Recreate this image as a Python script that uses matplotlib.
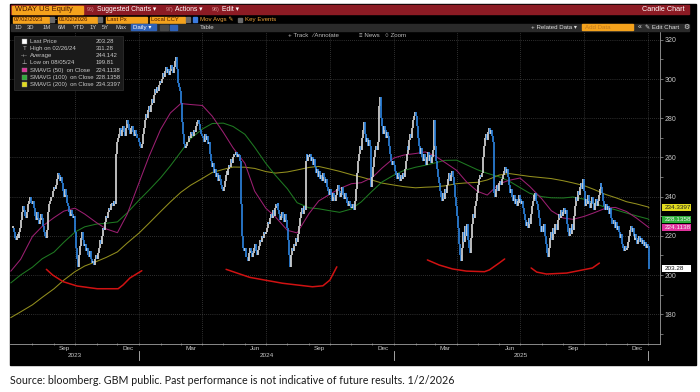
import matplotlib
matplotlib.use('Agg')
import matplotlib.pyplot as plt
import matplotlib.dates as mdates
from matplotlib.patches import Rectangle
from matplotlib.transforms import blended_transform_factory
import pandas as pd

plt.rcParams['font.family'] = ['Liberation Sans', 'DejaVu Sans']

# daily closes, one inner list per month
close_2023 = [
    [224, 222, 219, 218, 220, 221, 219, 222, 224, 228, 232, 235, 233, 230, 229, 232, 236, 238, 240, 237, 236],
    [238, 234, 230, 228, 232, 229, 226, 228, 231, 229, 225, 222, 220, 219, 223, 232, 236, 238, 240, 243, 245],
    [244, 246, 249, 252, 251, 248, 250, 247, 243, 240, 244, 241, 237, 235, 232, 230, 233, 231, 229, 230],
    [222, 214, 208, 204, 210, 215, 219, 222, 218, 215, 216, 212, 214, 210, 209, 212, 208, 206, 207, 205, 208, 210],
    [208, 211, 214, 218, 216, 220, 224, 223, 227, 230, 229, 232, 234, 233, 236, 237, 235, 238, 236, 262, 268],
    [270, 272, 275, 271, 274, 276, 273, 271, 275, 279, 277, 274, 272, 275, 276, 273, 271, 274, 272, 270, 268],
]
close_2024 = [
    [266, 265, 267, 272, 275, 279, 282, 280, 284, 286, 283, 287, 290, 288, 292, 295, 293, 296, 294, 297, 299],
    [298, 300, 303, 301, 304, 306, 303, 305, 302, 304, 307, 305, 303, 306, 309, 311, 305, 298, 296, 294],
    [288, 278, 272, 267, 265, 266, 268, 271, 270, 273, 272, 271, 274, 273, 276, 278, 279, 277, 274, 272, 271],
    [270, 268, 272, 269, 271, 267, 268, 265, 262, 258, 255, 257, 252, 254, 250, 252, 248, 251, 249, 246, 244, 243],
    [245, 248, 251, 253, 251, 254, 256, 255, 259, 257, 260, 262, 261, 263, 260, 262, 261, 258, 236, 220, 216, 214, 212],
    [214, 209, 207, 211, 214, 212, 209, 211, 214, 216, 212, 210, 213, 215, 218, 217, 220, 219, 222, 221],
    [222, 224, 227, 226, 229, 231, 229, 233, 230, 234, 236, 235, 237, 233, 231, 228, 230, 232, 229, 227, 231, 228, 224],
    [218, 210, 204, 210, 214, 212, 216, 215, 219, 217, 221, 225, 229, 232, 234, 231, 235, 233, 258, 262, 258, 261],
    [260, 262, 258, 260, 256, 259, 255, 252, 254, 250, 253, 249, 251, 248, 252, 250, 247, 249, 245, 243, 241],
    [244, 241, 238, 242, 240, 238, 241, 244, 246, 243, 240, 242, 245, 243, 241, 239, 242, 240, 237, 235, 238, 236, 234],
    [234, 236, 233, 238, 244, 252, 258, 262, 266, 264, 270, 274, 278, 272, 268, 270, 266, 269, 266, 245, 250],
    [255, 260, 264, 266, 264, 268, 286, 291, 280, 276, 272, 276, 274, 270, 273, 271, 266, 262, 259, 258, 256, 258],
]
close_2025 = [
    [256, 253, 251, 249, 252, 250, 248, 251, 249, 252, 250, 254, 258, 262, 266, 264, 269, 272, 270, 275, 279, 281, 283],
    [281, 276, 270, 266, 262, 265, 260, 258, 262, 259, 256, 260, 263, 258, 261, 257, 260, 264, 279, 266],
    [258, 254, 250, 247, 243, 240, 238, 242, 239, 244, 242, 246, 249, 252, 248, 251, 253, 250, 246, 240, 235],
    [230, 224, 216, 210, 207, 214, 222, 217, 225, 220, 226, 222, 218, 214, 211, 219, 226, 231, 229, 235, 238, 242],
    [246, 249, 251, 250, 252, 260, 266, 270, 272, 269, 273, 275, 272, 274, 271, 268, 242, 240, 244, 246, 243, 247],
    [248, 246, 249, 251, 253, 255, 252, 254, 250, 246, 242, 244, 240, 238, 241, 236, 239, 235, 238, 241, 237],
    [239, 236, 238, 234, 231, 228, 225, 227, 224, 229, 226, 231, 235, 238, 241, 239, 242, 238, 236, 233, 229, 225, 222],
    [225, 222, 226, 220, 216, 211, 209, 214, 219, 222, 218, 224, 221, 226, 223, 228, 231, 229, 233, 230, 232],
    [234, 231, 233, 229, 226, 222, 220, 224, 221, 226, 223, 230, 235, 240, 238, 243, 241, 245, 247, 244, 249, 243],
    [238, 235, 239, 236, 241, 238, 234, 237, 240, 236, 233, 237, 239, 235, 238, 241, 244, 247, 245, 242, 238, 235, 233],
    [236, 233, 235, 231, 234, 229, 226, 228, 224, 227, 223, 225, 222, 219, 221, 216, 214, 212, 215, 213],
    [214, 217, 220, 223, 225, 222, 224, 220, 218, 221, 219, 216, 218, 220, 217, 219, 216, 218, 215, 217, 214, 216, 215],
]
close_2026 = [[203.28]]

first_day = '2023-07-03'
last_day = '2026-01-02'

# moving averages read on the 1st and 15th of every month
sma_dates = pd.date_range('2023-07-01', '2026-01-01', freq='SMS')
sma50 = [202, 208, 219.7, 224.8, 229.3, 232.6, 234.1, 231.1, 226.7, 223.5, 221.6, 231,
         247.1, 260.2, 274.3, 282.7, 287.5, 287, 286.5, 281.1, 272.8, 264.9, 257, 242.8,
         234.1, 229.6, 222.8, 221.5, 231.3, 237.8, 241.2, 244.1, 246.6, 247.1, 249.8, 254.6,
         259.7, 261.2, 262, 262.8, 260.8, 257.5, 253.4, 247.6, 242.7, 240.8, 246.5, 248.3,
         249.5, 245.2, 239, 232.8, 229.1, 228.4, 229.9, 231.7, 234.1, 234.5, 232.4, 229.1,
         224.5]
sma100 = [196, 200, 204, 208.3, 211.7, 216.7, 221.9, 224.6, 226, 226.4, 227.1, 231.7,
          238.2, 243.2, 249.6, 255.7, 262.8, 269.6, 274.5, 277.3, 277.5, 275.8, 271.8, 265.2,
          257, 250.8, 244, 236.9, 234.3, 233.8, 232.8, 232, 233.7, 237.3, 242.9, 247.5,
          251, 253.3, 255, 256, 257.2, 258.5, 258.6, 256.3, 253.7, 251.9, 250.1, 248,
          244.6, 241.7, 240, 239.4, 239.3, 239.8, 238.7, 236.7, 234.5, 233.3, 231.6, 230.2,
          228.6]
sma200 = [178.3, 181.2, 184.8, 188.6, 193, 197.4, 201.7, 204.6, 206.9, 209, 211.8, 216.3,
          221.4, 226.3, 232.4, 237.3, 242.2, 245.8, 249.3, 252.3, 253.9, 255.1, 255, 254.4,
          252.8, 252, 252.6, 253.6, 254.9, 255.4, 254.1, 252.9, 251.2, 250, 248.4, 246.9,
          245.9, 245.1, 244.5, 244.8, 245, 245.5, 246.6, 247, 247.3, 248.5, 251, 251.8,
          251, 250.3, 249.7, 249.2, 248.1, 247, 245.6, 243.7, 241.1, 239.5, 237.4, 236.3,
          234.7]
sma_last = [224.1138, 228.1358, 234.3397]
last_price = 203.28

# red hand-drawn arcs
arc1_dates = ['2023-08-21', '2023-08-30', '2023-09-14', '2023-10-04', '2023-11-02',
              '2023-12-02', '2023-12-09', '2023-12-19', '2024-01-05']
arc1_vals = [202.9, 200.0, 196.6, 194.4, 193.0, 193.0, 194.9, 198.5, 202.2]
arc2_dates = ['2024-05-05', '2024-06-08', '2024-07-25', '2024-09-06', '2024-09-21',
              '2024-10-01', '2024-10-11']
arc2_vals = [202.9, 198.8, 195.8, 194.0, 194.5, 197.4, 204.2]
arc3_dates = ['2025-02-18', '2025-03-07', '2025-03-26', '2025-04-15', '2025-05-11',
              '2025-05-18', '2025-06-01', '2025-06-09']
arc3_vals = [207.7, 205.1, 203.1, 202.0, 201.7, 202.6, 206.1, 208.2]
arc4_dates = ['2025-07-17', '2025-07-25', '2025-08-08', '2025-09-06', '2025-09-29',
              '2025-10-13', '2025-10-23']
arc4_vals = [203.6, 201.5, 200.5, 201.0, 202.6, 203.6, 206.1]

legend_labels = ['Last Price', 'High on 02/26/24', 'Average', 'Low on 08/05/24',
                 'SMAVG (50)  on Close', 'SMAVG (100)  on Close', 'SMAVG (200)  on Close']
legend_values = ['203.28', '311.28', '244.142', '199.81', '224.1138', '228.1358', '234.3397']

y_ticks = [180, 200, 220, 240, 260, 280, 300, 320]

UP = '#d4d4d4'
DOWN = '#2b80da'
C50, C100, C200 = '#9c1f72', '#1f7a22', '#938f1e'
TAG50, TAG100, TAG200 = '#e0329c', '#2fae3a', '#e2dc1e'
TXT = '#c8c8c8'

fig = plt.figure(figsize=(7, 3.92), dpi=100)
fig.patch.set_facecolor('white')

# background chrome (pixel coordinates)
bg = fig.add_axes([0, 0, 1, 1], zorder=0)
bg.set_xlim(0, 700)
bg.set_ylim(392, 0)
bg.axis('off')
bg.add_patch(Rectangle((10, 4), 686, 361, color='black'))

# price axes
ax = fig.add_axes([10 / 700, 48 / 392, 650 / 700, 312 / 392], zorder=1)
ax.set_facecolor('black')

months = [m for yr in (close_2023, close_2024, close_2025, close_2026) for m in yr]
starts = list(pd.date_range('2023-07-01', periods=len(months), freq='MS'))
ends = starts[1:] + [pd.Timestamp(last_day) + pd.Timedelta(days=1)]
starts[0] = pd.Timestamp(first_day)
xs, closes = [], []
for lo, hi, vals in zip(starts, ends, months):
    a, b = mdates.date2num(lo), mdates.date2num(hi)
    step = (b - a) / len(vals)
    xs += [a + step * (i + 0.5) for i in range(len(vals))]
    closes += vals
opens = [closes[0]] + closes[:-1]
lows = [min(o, c) for o, c in zip(opens, closes)]
highs = [max(max(o, c), min(o, c) + 0.8) for o, c in zip(opens, closes)]
cols = [UP if c >= o else DOWN for o, c in zip(opens, closes)]
ax.vlines(xs, lows, highs, colors=cols, linewidth=1.25, zorder=3)

sx = list(mdates.date2num(sma_dates)) + [mdates.date2num(pd.Timestamp(last_day))]
for vals, last, col in [(sma200, sma_last[2], C200), (sma100, sma_last[1], C100),
                        (sma50, sma_last[0], C50)]:
    ax.plot(sx, vals + [last], color=col, linewidth=0.75, zorder=2)

for d, v in [(arc1_dates, arc1_vals), (arc2_dates, arc2_vals),
             (arc3_dates, arc3_vals), (arc4_dates, arc4_vals)]:
    ax.plot(mdates.date2num(pd.to_datetime(d)), v, color='#d01212', linewidth=1.1,
            solid_capstyle='round', zorder=4)

x0 = mdates.date2num(pd.Timestamp('2023-06-29 18:00'))
x1 = mdates.date2num(pd.Timestamp('2026-01-18'))
ax.set_xlim(x0, x1)
ax.set_ylim(164.8, 324.0)

# grid and ticks
quarters = pd.date_range('2023-10-01', '2026-01-01', freq='QS')
month_ticks = pd.date_range('2023-08-01', '2026-01-01', freq='MS')
ax.set_xticks(mdates.date2num(quarters))
ax.set_xticks(mdates.date2num(month_ticks), minor=True)
ax.set_xticklabels([])
ax.set_yticks(y_ticks)
ax.set_yticks(range(170, 321, 10), minor=True)
ax.yaxis.tick_right()
ax.tick_params(axis='y', which='both', colors='#9a9a9a', labelcolor=TXT,
               labelsize=5, length=2, width=0.5, pad=1.5)
ax.tick_params(axis='x', which='both', colors='#9a9a9a', length=2, width=0.5,
               direction='inout')
ax.grid(True, which='major', color='#5c5c5c', linewidth=0.5, linestyle=(0, (1, 2)))
for s in ('top', 'left'):
    ax.spines[s].set_visible(False)
for s in ('bottom', 'right'):
    ax.spines[s].set_color('#a0a0a0')
    ax.spines[s].set_linewidth(0.6)

bt = blended_transform_factory(ax.transData, ax.transAxes)
for m in pd.date_range('2023-09-01', '2025-12-01', freq='3MS'):
    mid = mdates.date2num(m) + 15
    ax.text(mid, -0.0145, m.strftime('%b'), transform=bt, ha='center', va='center',
            fontsize=4.6, color=TXT)
for yr in (2023, 2024, 2025):
    a = max(mdates.date2num(pd.Timestamp(f'{yr}-01-01')), x0)
    b = mdates.date2num(pd.Timestamp(f'{yr + 1}-01-01'))
    ax.text((a + b) / 2, -0.037, str(yr), transform=bt, ha='center', va='center',
            fontsize=4.6, color=TXT)
    ax.plot([b, b], [-0.022, -0.051], transform=bt, color='#bdbdbd', linewidth=0.6,
            clip_on=False)

# value tags on the right axis
rt = blended_transform_factory(ax.transAxes, ax.transData)
for val, txt, fc, tc in [(sma_last[2], '234.3397', TAG200, '#222222'),
                         (sma_last[1], '228.1358', TAG100, '#f0f0f0'),
                         (sma_last[0], '224.1138', TAG50, '#f4f4f4'),
                         (last_price, '203.28', 'white', '#111111')]:
    ax.add_patch(Rectangle((1.003, val - 1.75), 0.0445, 3.5, transform=rt, fc=fc,
                           ec='none', clip_on=False, zorder=5))
    ax.text(1.007, val, txt, transform=rt, ha='left', va='center', fontsize=4.6,
            color=tc, clip_on=False, zorder=6)

# foreground chrome
fg = fig.add_axes([0, 0, 1, 1], zorder=3)
fg.set_xlim(0, 700)
fg.set_ylim(392, 0)
fg.axis('off')
fg.patch.set_alpha(0)

# title bar
fg.add_patch(Rectangle((11, 5), 678, 9, color='#8c1b24'))
fg.add_patch(Rectangle((12, 5.5), 71, 8, color='#f4a21c'))
fg.text(15, 9.6, 'WDAY US Equity', fontsize=5.4, color='#4a1500', va='center')
for x, t in [(87, '96)'), (166, '97)'), (212, '98)')]:
    fg.text(x, 9.6, t, fontsize=3.8, color='#d99a9a', va='center')
for x, t in [(97, 'Suggested Charts \u25be'), (175, 'Actions \u25be'), (222, 'Edit \u25be')]:
    fg.text(x, 9.6, t, fontsize=4.9, color='white', va='center')
fg.text(685, 9.6, 'Candle Chart', fontsize=5.2, color='white', va='center', ha='right')

# second row: fields
for x, w, t in [(13, 36, '07/02/2023'), (58, 39, '01/02/2026'), (106, 41, 'Last Px'),
                (150, 35, 'Local CCY')]:
    fg.add_patch(Rectangle((x, 16.5), w, 6, color='#f4a21c'))
    fg.text(x + 1.2, 19.7, t, fontsize=4.2, color='#4a1500', va='center')
for x in (50, 98, 186):
    fg.add_patch(Rectangle((x, 17), 3.5, 5, color='#6a6a6a'))
fg.text(55, 19.5, '-', fontsize=4.5, color='#dddddd', va='center')
fg.add_patch(Rectangle((193, 17.3), 4, 4.4, color='#3b7be0'))
fg.text(199.5, 19.7, 'Mov Avgs \u270e', fontsize=4.4, color='#f0a43a', va='center')
fg.add_patch(Rectangle((238, 17.5), 4, 4, color='#6a6a6a'))
fg.text(245, 19.7, 'Key Events', fontsize=4.4, color='#f0a43a', va='center')

# third row: toolbar
fg.add_patch(Rectangle((11, 23.5), 678, 7.5, color='#2a2a2a'))
for x, t in [(15, '1D'), (27, '3D'), (43, '1M'), (58, '6M'), (73, 'YTD'), (90, '1Y'),
             (102, '5Y'), (115, 'Max')]:
    fg.text(x, 27.3, t, fontsize=4.2, color='#cfcfcf', va='center')
fg.add_patch(Rectangle((131, 24.2), 25, 6.2, color='#2f62b8'))
fg.text(133, 27.3, 'Daily \u25be', fontsize=4.4, color='white', va='center')
fg.add_patch(Rectangle((160, 24.8), 8, 5, color='#4a4a4a'))
fg.add_patch(Rectangle((170, 24.8), 7, 5, color='#2f62b8'))
fg.text(200, 27.3, 'Table', fontsize=4.4, color='#cfcfcf', va='center')
fg.text(531, 27.3, '+ Related Data \u25be', fontsize=4.4, color='#dddddd', va='center')
fg.add_patch(Rectangle((582, 24.3), 51, 6, color='#f4a21c'))
fg.text(585, 27.3, 'Add Data', fontsize=4.4, color='#c07a20', va='center')
fg.text(638, 27.3, '\u00ab', fontsize=5, color='#dddddd', va='center')
fg.text(645, 27.3, '\u270e Edit Chart', fontsize=4.4, color='#dddddd', va='center')
fg.text(683, 27.3, '\u2699', fontsize=5, color='#dddddd', va='center')

# fourth row over the plot
for x, t in [(288, '+ Track'), (312, '\u2215 Annotate'), (359, '\u2261 News'),
             (385, '\u25cb Zoom')]:
    fg.text(x, 35.8, t, fontsize=4.4, color='#bdbdbd', va='center')

# legend box
fg.add_patch(Rectangle((14, 35.5), 109, 54, fc='#1a1a1a', ec='#333333', lw=0.5))
rows_y = [41.8, 48.8, 55.8, 62.9, 70.0, 77.1, 84.2]
swatch = ['white', None, None, None, TAG50, TAG100, TAG200]
for y, lab, val, sw in zip(rows_y, legend_labels, legend_values, swatch):
    if sw:
        fg.add_patch(Rectangle((22, y - 2.4), 4.8, 4.8, fc=sw, ec='#888888', lw=0.3))
    fg.text(29.5, y, lab, fontsize=4.3, color=TXT, va='center')
    fg.text(96, y, val, fontsize=4.3, color=TXT, va='center')
fg.text(24.4, rows_y[1], 'T', fontsize=4.4, color='#bbbbbb', va='center', ha='center')
fg.text(24.4, rows_y[2], '-+-', fontsize=4.0, color='#bbbbbb', va='center', ha='center')
fg.text(24.4, rows_y[3], '\u22a5', fontsize=4.4, color='#bbbbbb', va='center', ha='center')

# caption
fig.text(10 / 700, 1 - 381 / 392, 'Source: bloomberg. GBM public. Past performance is '
         'not indicative of future results. 1/2/2026', fontsize=7.7, family='Lato',
         color='#1a1a1a', va='center')

fig.savefig('out.png', dpi=100)
